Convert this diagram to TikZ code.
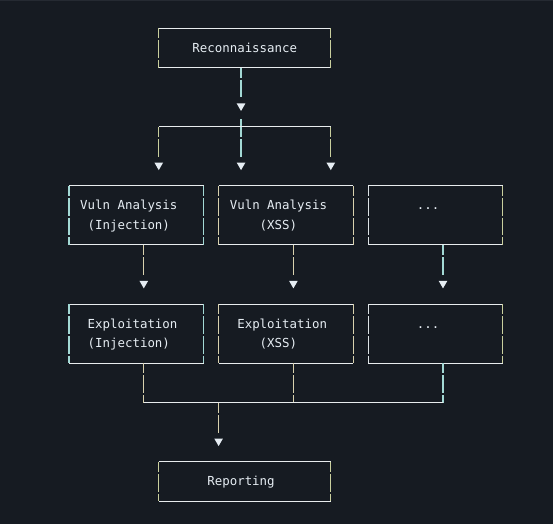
\documentclass[tikz,border=0pt]{standalone}
\usepackage{fontspec}
\setmonofont{DejaVu Sans Mono}
\usetikzlibrary{shapes.geometric}
\definecolor{bg}{HTML}{161B22}
\definecolor{topedge}{HTML}{252A32}
\definecolor{fg}{HTML}{E6EDF3}
\definecolor{hl}{HTML}{E8ECEE}
\definecolor{vyel}{HTML}{C9CF9E}
\definecolor{vcyan}{HTML}{A3D9D5}
\definecolor{vbeige}{HTML}{D8D1AE}
\definecolor{vwhite}{HTML}{DDE3E6}
\tikzset{
  boxnode/.style 2 args={rectangle, inner sep=0pt, outer sep=0pt, draw=none,
    minimum width=#1*7.48pt, minimum height=#2*19.71pt},
  hseg/.style={draw=hl, line width=1pt},
  vseg/.style={line width=1.3pt, dash pattern=on 17.71pt off 2pt},
  fromedge/.style={dash phase=7.5pt},
  fromgrid/.style={dash phase=18.71pt},
  txt/.style={anchor=base west, inner sep=0pt, outer sep=0pt, text=fg,
    font=\fontsize{12.42}{14}\selectfont\ttfamily},
  arrowtri/.style={regular polygon, regular polygon sides=3, shape border rotate=180,
    fill=fg, draw=none, inner sep=0pt, outer sep=0pt, minimum size=10pt},
}
\newcommand\mybox[3]{%
  \draw[hseg] (#1.north west) -- (#1.north east);
  \draw[hseg] (#1.south west) -- (#1.south east);
  \draw[vseg, fromedge, draw=#2] (#1.north west) -- (#1.south west);
  \draw[vseg, fromedge, draw=#3] (#1.north east) -- (#1.south east);
}
\begin{document}
\begin{tikzpicture}[x=7.48pt, y=-19.71pt]
  \useasboundingbox (-9.2246,-0.99391) rectangle (64.706,25.5916);
  \fill[bg] (-9.2246,-0.99391) rectangle (64.706,25.5916);
  \fill[topedge] (-9.2246,-0.99391) rectangle (64.706,-0.94);

  % boxes
  \node[boxnode={23}{2}] (recon) at (23.5,1.431) {};
  \node[boxnode={18}{3}] (va1) at (9,9.931) {};
  \node[boxnode={18}{3}] (va2) at (29,9.931) {};
  \node[boxnode={18}{3}] (va3) at (49,9.931) {};
  \node[boxnode={18}{3}] (ex1) at (9,15.931) {};
  \node[boxnode={18}{3}] (ex2) at (29,15.931) {};
  \node[boxnode={18}{3}] (ex3) at (49,15.931) {};
  \node[boxnode={23}{2}] (rep) at (23.5,23.431) {};

  \mybox{recon}{vyel}{vyel}
  \mybox{va1}{vcyan}{vcyan}
  \mybox{va2}{vbeige}{vbeige}
  \mybox{va3}{vwhite}{vyel}
  \mybox{ex1}{vcyan}{vcyan}
  \mybox{ex2}{vbeige}{vbeige}
  \mybox{ex3}{vwhite}{vyel}
  \mybox{rep}{vyel}{vyel}

  % texts
  \node[txt] (t0) at (16.5,1.66) {Reconnaissance};
  \node[txt] (t1a) at (1.5,9.66) {Vuln Analysis};
  \node[txt] (t1b) at (2.5,10.66) {(Injection)};
  \node[txt] (t2a) at (21.5,9.66) {Vuln Analysis};
  \node[txt] (t2b) at (25.5,10.66) {(XSS)};
  \node[txt] (t3a) at (46.5,9.66) {...};
  \node[txt] (t4a) at (2.5,15.66) {Exploitation};
  \node[txt] (t4b) at (2.5,16.66) {(Injection)};
  \node[txt] (t5a) at (22.5,15.66) {Exploitation};
  \node[txt] (t5b) at (25.5,16.66) {(XSS)};
  \node[txt] (t6a) at (46.5,15.66) {...};
  \node[txt] (t7) at (18.5,23.66) {Reporting};

  % arrow heads
  \node[arrowtri] (a0) at (23,4.384) {};
  \node[arrowtri] (b1) at (12,7.384) {};
  \node[arrowtri] (b2) at (23,7.384) {};
  \node[arrowtri] (b3) at (35,7.384) {};
  \node[arrowtri] (c1) at (10,13.384) {};
  \node[arrowtri] (c2) at (30,13.384) {};
  \node[arrowtri] (c3) at (50,13.384) {};
  \node[arrowtri] (d0) at (20,21.384) {};

  % junction points
  \coordinate (jl) at (12,5.431);
  \coordinate (jr) at (35,5.431);
  \coordinate (kl) at (10,19.431);
  \coordinate (kr) at (50,19.431);
  \coordinate (km) at (20,19.431);

  % connectors top
  \draw[vseg, fromedge, draw=vcyan] (recon.south -| a0) -- ([yshift=5.07pt]a0.north);
  \draw[vseg, fromgrid, draw=vcyan] ([yshift=-7.14pt]a0.south) -- ([yshift=5.07pt]b2.north);
  \draw[hseg] (jl) -- (jr);
  \draw[vseg, fromedge, draw=vyel] (jl) -- ([yshift=5.07pt]b1.north);
  \draw[vseg, fromedge, draw=vyel] (jr) -- ([yshift=5.07pt]b3.north);

  % connectors middle
  \draw[vseg, fromedge, draw=vbeige] (va1.south -| c1) -- ([yshift=5.07pt]c1.north);
  \draw[vseg, fromedge, draw=vbeige] (va2.south -| c2) -- ([yshift=5.07pt]c2.north);
  \draw[vseg, fromedge, draw=vcyan] (va3.south -| c3) -- ([yshift=5.07pt]c3.north);

  % connectors bottom
  \draw[vseg, fromedge, draw=vbeige] (ex1.south -| c1) -- (kl);
  \draw[vseg, fromedge, draw=vbeige] (ex2.south -| c2) -- (c2 |- kl);
  \draw[vseg, fromedge, draw=vcyan] (ex3.south -| c3) -- (kr);
  \draw[hseg] (kl) -- (kr);
  \draw[vseg, fromedge, draw=vbeige] (km) -- ([yshift=5.07pt]d0.north);
\end{tikzpicture}
\end{document}
